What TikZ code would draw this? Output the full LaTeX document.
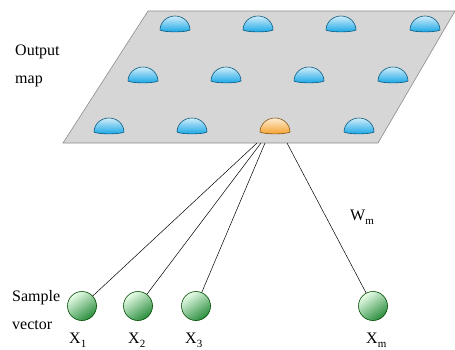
\documentclass[tikz,border=0pt]{standalone}
\usepackage{fontspec}
\setmainfont{Liberation Serif}
\newcommand{\sbx}[1]{\raisebox{-0.3em}{\fontsize{11}{12}\selectfont #1}}
\begin{document}
\begin{tikzpicture}[x=1pt,y=-1pt,
  dome/.pic={\shade[top color=#1!20!white, bottom color=#1, draw=#1!55!black, line width=0.6pt]
    (-15,0) arc[start angle=180,end angle=360,x radius=15,y radius=14]
    .. controls (11,2.5) and (-11,2.5) .. cycle;},
  ballnode/.style={circle, minimum size=29pt, inner sep=0pt, draw=green!30!black, line width=0.6pt,
    top color=green!8!white, bottom color=ballgreen, shading angle=35},
  lbl/.style={font=\fontsize{16}{18}\selectfont, inner sep=0pt, anchor=base west},
  wire/.style={black, line width=0.5pt}]
\useasboundingbox (0,0) rectangle (455,349);
\definecolor{domeblue}{RGB}{20,165,230}
\definecolor{domeorange}{RGB}{245,160,40}
\definecolor{ballgreen}{RGB}{40,140,60}
% map
\filldraw[fill=black!16, draw=black!45, line width=0.6pt] (148,11) -- (455,11) -- (378,143) -- (63,143) -- cycle;
% domes
\foreach \x in {175,258,341,425} \pic at (\x,30) {dome=domeblue};
\foreach \x in {143,226,309,393} \pic at (\x,81) {dome=domeblue};
\foreach \x in {109,192,359} \pic at (\x,132) {dome=domeblue};
\pic at (275,132) {dome=domeorange};
% inputs
\node[ballnode] (x1) at (82,306) {};
\node[ballnode] (x2) at (138,306) {};
\node[ballnode] (x3) at (196,306) {};
\node[ballnode] (xm) at (373,306) {};
\coordinate (s1) at (257,143);
\coordinate (s2) at (261,143);
\coordinate (s3) at (265,143);
\coordinate (sm) at (287,143);
\draw[wire] (s1) -- (x1);
\draw[wire] (s2) -- (x2);
\draw[wire] (s3) -- (x3);
\draw[wire] (sm) -- (xm);
% labels
\node[lbl] (out) at (15,55) {Output};
\node[lbl] (map) at (15,83) {map};
\node[lbl] (sam) at (12,301) {Sample};
\node[lbl] (vec) at (12,329) {vector};
\node[lbl] (wm) at (350,220) {W\sbx{m}};
\node[lbl] (l1) at (69,343) {X\sbx{1}};
\node[lbl] (l2) at (128,343) {X\sbx{2}};
\node[lbl] (l3) at (185,343) {X\sbx{3}};
\node[lbl] (lm) at (366,343) {X\sbx{m}};
\end{tikzpicture}
\end{document}
